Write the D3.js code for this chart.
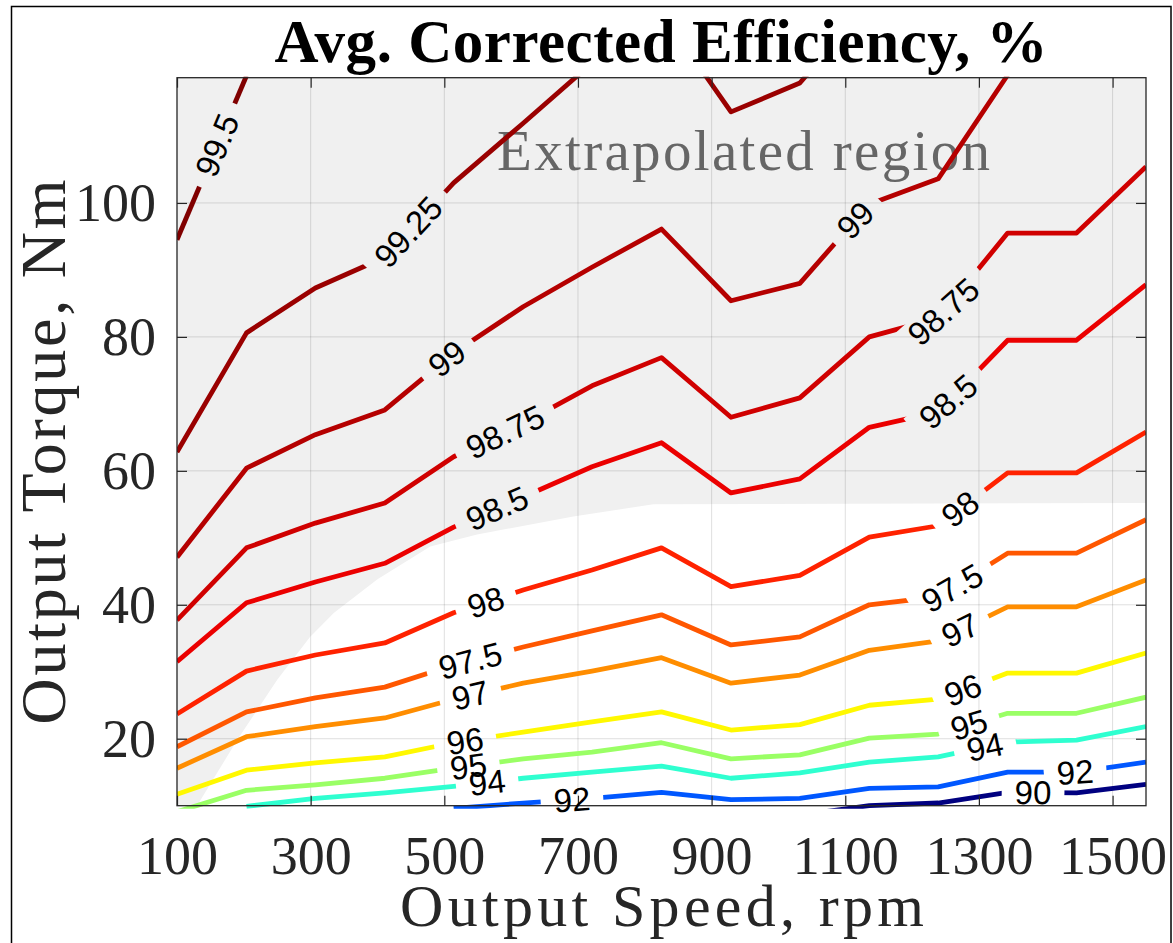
<!DOCTYPE html>
<html>
<head>
<meta charset="utf-8">
<script src="https://cdn.jsdelivr.net/npm/d3@7"></script>
<style>
  body { margin: 0; background: #fff; }
</style>
</head>
<body>
<svg id="chart" width="1173" height="943"></svg>
<script>
// speed grid of the measurement map (rpm)
const speeds = [100, 204, 307, 411, 514, 618, 721, 825, 929, 1032, 1136, 1239, 1343, 1446, 1550];

// contour levels (%) and the torque (Nm) where each level crosses each speed
const levels = [90, 92, 94, 95, 96, 97, 97.5, 98, 98.5, 98.75, 99, 99.25, 99.5];
const torque90    = [null, null, null, null, null, null, null, null, null, 8.6, 10.0, 10.4, 12.0, 11.9, 13.2];
const torque92    = [null, null, null, null, 9.6, 10.4, 11.1, 12.0, 10.9, 11.1, 12.6, 12.8, 15.0, 15.0, 16.5];
const torque94    = [null, 9.9, 11.1, 11.9, 12.9, 14.1, 15.0, 15.9, 14.1, 14.9, 16.5, 17.3, 19.5, 19.8, 21.8];
const torque95    = [9.1, 12.3, 13.1, 14.1, 15.6, 17.0, 18.0, 19.4, 17.0, 17.6, 20.1, 20.7, 23.8, 23.8, 26.2];
const torque96    = [11.7, 15.3, 16.4, 17.3, 19.4, 21.0, 22.5, 24.0, 21.3, 22.1, 25.0, 25.9, 29.8, 29.8, 32.8];
const torque97    = [15.6, 20.3, 21.8, 23.1, 25.9, 28.3, 30.1, 32.1, 28.3, 29.5, 33.2, 34.6, 39.7, 39.7, 43.7];
const torque97_5  = [18.8, 24.0, 26.1, 27.7, 31.0, 33.7, 36.1, 38.5, 34.0, 35.2, 40.0, 41.2, 47.7, 47.7, 52.7];
const torque98    = [23.7, 30.1, 32.5, 34.3, 38.8, 42.2, 45.2, 48.5, 42.7, 44.4, 50.1, 51.8, 59.7, 59.7, 65.8];
const torque98_5  = [31.5, 40.3, 43.4, 46.2, 51.6, 56.1, 60.6, 64.2, 56.7, 58.8, 66.5, 68.8, 79.5, 79.5, 87.8];
const torque98_75 = [37.7, 48.5, 52.2, 55.2, 62.1, 67.1, 72.7, 76.9, 68.0, 70.9, 80.0, 82.8, 95.5, 95.5, 105.4];
const torque99    = [47.1, 60.4, 65.4, 69.1, 77.6, 84.5, 90.4, 96.1, 85.4, 88.0, 99.8, 103.6, 119.1, null, null];
const torque99_25 = [62.8, 80.6, 87.3, 91.9, 103.0, 111.9, 120.9, 128.4, 113.6, 117.9, 130.0, null, null, null, null];
const torque99_5  = [94.5, 119.0, null, null, null, null, null, null, null, null, null, null, null, null, null];
const torques = [torque90, torque92, torque94, torque95, torque96, torque97, torque97_5,
                 torque98, torque98_5, torque98_75, torque99, torque99_25, torque99_5];

// inline labels: which level, and at what speed along the line
const labelLevels = [99.5, 99.25, 99, 98.75, 98.5, 98, 97.5, 97, 96, 95, 94, 92,
                     99, 98.75, 98.5, 98, 97.5, 97, 96, 95, 94, 92, 90];
const labelSpeeds = [160, 446, 504, 591, 579, 562, 539, 539, 531, 536, 564, 691,
                     1115, 1247, 1254, 1272, 1260, 1272, 1276, 1285, 1309, 1444, 1381];

// edge of the measured region (below it: measured, above: extrapolated)
const edgeSpeed  = [100, 130, 190, 250, 299, 335, 400, 479, 549, 693, 813, 1550];
const edgeTorque = [10, 10, 19.8, 28.8, 35.2, 38.8, 43.8, 48.7, 50.5, 53.2, 55.0, 55.2];

const xTicks = [100, 300, 500, 700, 900, 1100, 1300, 1500];
const yTicks = [20, 40, 60, 80, 100];

const plot = {l: 177, r: 1146, t: 77.7, b: 805.7};
const x = d3.scaleLinear().domain([100, 1550]).range([plot.l, plot.r]);
const y = d3.scaleLinear().domain([10, 118.7]).range([plot.b, plot.t]);

// MATLAB jet over the level range
const tScale = d3.scaleLinear().domain([90, 99.5]).range([0, 1]);
function jet(v) {
  const t = tScale(v);
  const c = a => Math.round(255 * Math.max(0, Math.min(1, a)));
  return d3.rgb(c(1.5 - Math.abs(4 * t - 3)), c(1.5 - Math.abs(4 * t - 2)), c(1.5 - Math.abs(4 * t - 1))).toString();
}

const svg = d3.select('#chart');
const defs = svg.append('defs');
defs.append('clipPath').attr('id', 'plotClip').append('rect')
  .attr('x', plot.l).attr('y', plot.t).attr('width', plot.r - plot.l).attr('height', plot.b - plot.t);
defs.append('clipPath').attr('id', 'lineClip').append('rect')
  .attr('x', plot.l).attr('y', plot.t - 1).attr('width', plot.r - plot.l).attr('height', plot.b - plot.t + 4);

// figure frame
svg.append('rect').attr('x', 11.5).attr('y', 6.5).attr('width', 1159.5).attr('height', 960)
  .attr('fill', 'none').attr('stroke', '#000').attr('stroke-width', 1.5);

// axes background + extrapolated patch
svg.append('rect').attr('x', plot.l).attr('y', plot.t).attr('width', plot.r - plot.l)
  .attr('height', plot.b - plot.t).attr('fill', '#fff');

const edge = edgeSpeed.map((s, i) => [s, edgeTorque[i]]);
svg.append('path').datum(edge)
  .attr('clip-path', 'url(#plotClip)')
  .attr('fill', '#f0f0f0')
  .attr('d', d3.area().x(d => x(d[0])).y0(y(y.domain()[1])).y1(d => y(d[1])));

// grid
const grid = svg.append('g').attr('stroke', '#262626').attr('stroke-opacity', 0.15).attr('stroke-width', 1);
grid.selectAll('.gx').data(xTicks.slice(1)).join('line')
  .attr('x1', d => x(d)).attr('x2', d => x(d)).attr('y1', plot.t).attr('y2', plot.b);
grid.selectAll('.gy').data(yTicks).join('line')
  .attr('y1', d => y(d)).attr('y2', d => y(d)).attr('x1', plot.l).attr('x2', plot.r);

svg.append('text').attr('x', 497).attr('y', 170)
  .attr('font-family', 'Liberation Serif, serif').attr('font-size', 57).attr('fill', '#666')
  .attr('textLength', 493).text('Extrapolated region');

// label texts first (so their widths are known for the line gaps)
const labelLayerData = labelLevels.map((lv, i) => ({level: lv, speed: labelSpeeds[i]}));

function pixelYAt(vals, px) {
  const s = x.invert(px);
  for (let k = 0; k < speeds.length - 1; k++) {
    if (s >= speeds[k] && s <= speeds[k + 1] && vals[k] != null && vals[k + 1] != null) {
      const f = (s - speeds[k]) / (speeds[k + 1] - speeds[k]);
      return y(vals[k] + f * (vals[k + 1] - vals[k]));
    }
  }
  return null;
}

const labelG = svg.append('g');
const labelTexts = labelG.selectAll('text').data(labelLayerData).join('text')
  .attr('font-family', 'Liberation Sans, Arial, sans-serif')
  .attr('font-size', 33)
  .attr('fill', '#000')
  .attr('text-anchor', 'middle')
  .attr('dy', '0.35em')
  .text(d => String(d.level));

labelTexts.each(function(d) {
  const vals = torques[levels.indexOf(d.level)];
  const px = x(d.speed);
  const py = pixelYAt(vals, px);
  const a = pixelYAt(vals, px - 18), b = pixelYAt(vals, px + 18);
  d.px = px; d.py = py;
  d.angle = Math.atan2(b - a, 36) * 180 / Math.PI;
  d.w = this.getComputedTextLength();
  d3.select(this).attr('transform', `translate(${px},${py}) rotate(${d.angle})`);
});

// one mask per level, cutting gaps where its labels sit
levels.forEach((lv, i) => {
  const m = defs.append('mask').attr('id', 'gap' + i)
    .attr('maskUnits', 'userSpaceOnUse').attr('x', 0).attr('y', 0).attr('width', 1173).attr('height', 943);
  m.append('rect').attr('x', 0).attr('y', 0).attr('width', 1173).attr('height', 943).attr('fill', '#fff');
  labelLayerData.filter(d => d.level === lv).forEach(d => {
    const gw = d.w + 26;
    m.append('rect').attr('x', -gw / 2).attr('y', -16).attr('width', gw).attr('height', 32)
      .attr('fill', '#000').attr('transform', `translate(${d.px},${d.py}) rotate(${d.angle})`);
  });
});

const line = d3.line().defined(d => d[1] != null).x(d => x(d[0])).y(d => y(d[1]));
const lineG = svg.insert('g', () => labelG.node()).attr('clip-path', 'url(#lineClip)');
levels.forEach((lv, i) => {
  lineG.append('path')
    .datum(speeds.map((s, k) => [s, torques[i][k]]))
    .attr('mask', `url(#gap${i})`)
    .attr('fill', 'none')
    .attr('stroke', jet(lv))
    .attr('stroke-width', 4.8)
    .attr('stroke-linejoin', 'round')
    .attr('d', line);
});

// axes (ticks inward on all four sides)
const axisG = svg.insert('g', () => labelG.node());
const tickFont = g => g.selectAll('text')
  .attr('font-family', 'Liberation Serif, serif').attr('font-size', 54).attr('fill', '#262626');
const styleAxis = g => {
  g.select('.domain').remove();
  g.selectAll('line').attr('stroke', '#262626').attr('stroke-width', 1.2);
};
axisG.append('g').attr('transform', `translate(0,${plot.b})`)
  .call(d3.axisBottom(x).tickValues(xTicks).tickSize(-10).tickPadding(30).tickFormat(d3.format('d')))
  .call(styleAxis).call(tickFont);
axisG.append('g').attr('transform', `translate(0,${plot.t})`)
  .call(d3.axisTop(x).tickValues(xTicks).tickSize(-10).tickFormat(''))
  .call(styleAxis);
axisG.append('g').attr('transform', `translate(${plot.l},0)`)
  .call(d3.axisLeft(y).tickValues(yTicks).tickSize(-10).tickPadding(21).tickFormat(d3.format('d')))
  .call(styleAxis).call(tickFont);
axisG.append('g').attr('transform', `translate(${plot.r},0)`)
  .call(d3.axisRight(y).tickValues(yTicks).tickSize(-10).tickFormat(''))
  .call(styleAxis);
axisG.append('rect').attr('x', plot.l).attr('y', plot.t).attr('width', plot.r - plot.l)
  .attr('height', plot.b - plot.t).attr('fill', 'none').attr('stroke', '#262626').attr('stroke-width', 1.3);

// titles
svg.append('text').attr('x', 661).attr('y', 62).attr('text-anchor', 'middle')
  .attr('font-family', 'Liberation Serif, serif').attr('font-weight', 'bold').attr('font-size', 61)
  .attr('fill', '#000').attr('textLength', 773).text('Avg. Corrected Efficiency, %');

svg.append('text').attr('x', 662).attr('y', 926).attr('text-anchor', 'middle')
  .attr('font-family', 'Liberation Serif, serif').attr('font-size', 60).attr('fill', '#262626')
  .attr('textLength', 524).text('Output Speed, rpm');

svg.append('text').attr('transform', 'translate(65,452) rotate(-90)').attr('text-anchor', 'middle')
  .attr('font-family', 'Liberation Serif, serif').attr('font-size', 64).attr('fill', '#262626')
  .attr('textLength', 545).text('Output Torque, Nm');
</script>
</body>
</html>
